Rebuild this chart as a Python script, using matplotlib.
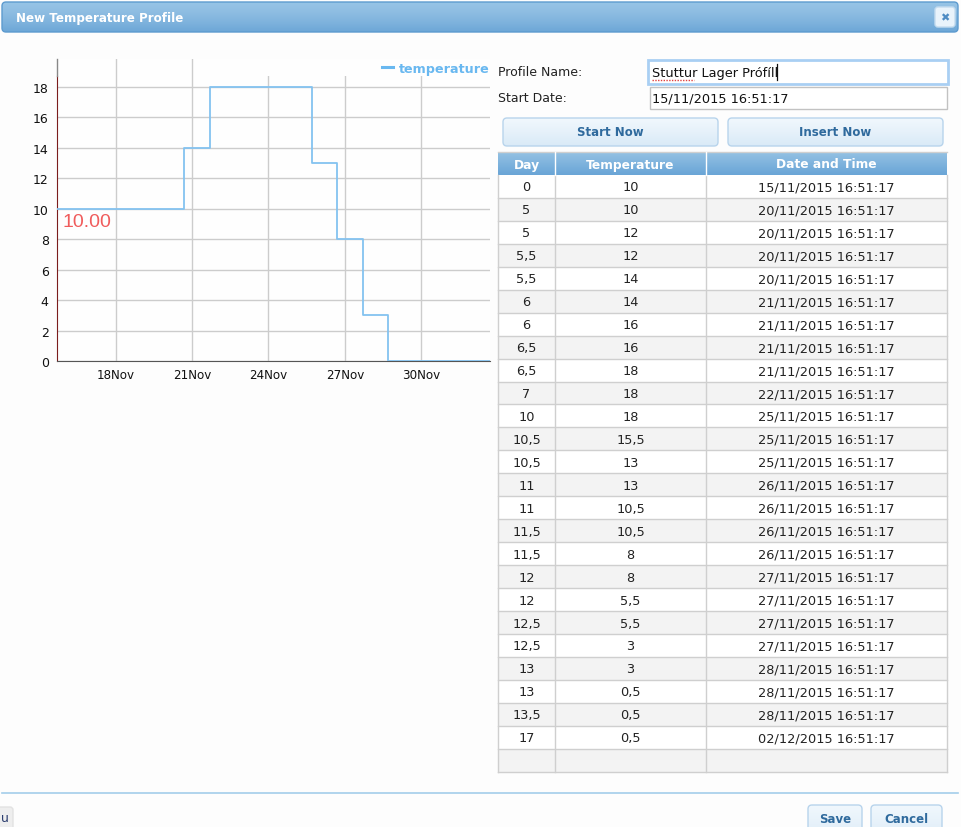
import numpy as np
import matplotlib
matplotlib.use("Agg")
import matplotlib.pyplot as plt
import matplotlib.dates as mdates
from matplotlib.patches import Rectangle, FancyBboxPatch
from matplotlib.colors import to_rgb
from datetime import datetime, timedelta

plt.rcParams['font.family'] = ['DejaVu Sans']

# chart series (step profile as drawn)
start = datetime(2015, 11, 15, 16, 51, 17)
chart_days = [0, 5, 6, 10, 11, 12, 13, 17]
chart_temps = [10, 14, 18, 13, 8, 3, 0, 0]
tick_dates = [datetime(2015, 11, d) for d in (18, 21, 24, 27, 30)]
y_ticks = list(range(0, 19, 2))

# table contents
table_cols = ["Day", "Temperature", "Date and Time"]
days = ["0", "5", "5", "5,5", "5,5", "6", "6", "6,5", "6,5", "7", "10", "10,5",
        "10,5", "11", "11", "11,5", "11,5", "12", "12", "12,5", "12,5", "13",
        "13", "13,5", "17"]
temps = ["10", "10", "12", "12", "14", "14", "16", "16", "18", "18", "18", "15,5",
         "13", "13", "10,5", "10,5", "8", "8", "5,5", "5,5", "3", "3", "0,5",
         "0,5", "0,5"]
stamps = ["15/11/2015 16:51:17", "20/11/2015 16:51:17", "20/11/2015 16:51:17",
          "20/11/2015 16:51:17", "20/11/2015 16:51:17", "21/11/2015 16:51:17",
          "21/11/2015 16:51:17", "21/11/2015 16:51:17", "21/11/2015 16:51:17",
          "22/11/2015 16:51:17", "25/11/2015 16:51:17", "25/11/2015 16:51:17",
          "25/11/2015 16:51:17", "26/11/2015 16:51:17", "26/11/2015 16:51:17",
          "26/11/2015 16:51:17", "26/11/2015 16:51:17", "27/11/2015 16:51:17",
          "27/11/2015 16:51:17", "27/11/2015 16:51:17", "27/11/2015 16:51:17",
          "28/11/2015 16:51:17", "28/11/2015 16:51:17", "28/11/2015 16:51:17",
          "02/12/2015 16:51:17"]
profile_name = "Stuttur Lager Prófíll"
start_text = "15/11/2015 16:51:17"

W, H = 961, 828
fig = plt.figure(figsize=(W / 100, H / 100), dpi=100, facecolor="#fdfdfd")

# ---- background "dialog" layer in pixel coords
bg = fig.add_axes([0, 0, 1, 1], zorder=0)
bg.set_axis_off()


def gradient(x0, y0, x1, y1, stops, clip=None):
    n = 60
    pos = np.linspace(0, 1, n)
    sp = np.linspace(0, 1, len(stops))
    cols = np.array([to_rgb(c) for c in stops])
    rgb = np.stack([np.interp(pos, sp, cols[:, k]) for k in range(3)], axis=1)
    im = bg.imshow(rgb.reshape(n, 1, 3), extent=(x0, x1, y1, y0), aspect="auto",
                   interpolation="bilinear", zorder=1)
    if clip is not None:
        im.set_clip_path(clip)
    return im


def rbox(x0, y0, x1, y1, r, fc, ec, lw=1, z=1):
    p = FancyBboxPatch((x0, y0), x1 - x0, y1 - y0,
                       boxstyle=f"round,pad=0,rounding_size={r}",
                       fc=fc, ec=ec, lw=lw, zorder=z)
    bg.add_patch(p)
    return p


# title bar
tb = rbox(2, 3, 958, 33, 4, "none", "#5d9bcf", 1, 2)
gradient(2, 3, 958, 33, ["#97c4e6", "#8ebde2", "#7fb3dd", "#6da7d7"], clip=tb)
bg.text(16, 18.5, "New Temperature Profile", color="white", fontsize=8.6,
        fontweight="bold", va="center", ha="left", zorder=3)
cb = rbox(935, 8, 955, 28, 3, "#e9f3fb", "#c4dcef", 1, 3)
bg.text(945, 18.5, "✖", color="#4f8cc4", fontsize=8, ha="center", va="center", zorder=4)

# form fields
bg.text(498, 72, "Profile Name:", fontsize=9, color="#222", va="center")
bg.text(498, 99, "Start Date:", fontsize=9, color="#222", va="center")
bg.add_patch(Rectangle((648, 61), 300, 24, fc="white", ec="#a9cff3", lw=2, zorder=2))
bg.add_patch(Rectangle((650, 88), 297, 22, fc="white", ec="#c2c2c2", lw=1, zorder=2))
bg.text(652, 73, profile_name, fontsize=9.3, color="#111", va="center", zorder=3)
bg.plot([652, 694], [80.5, 80.5], color="#e04040", lw=1, ls=(0, (1, 1)), zorder=4)
bg.plot([777, 777], [65, 81], color="#111", lw=0.9, zorder=4)
bg.text(652, 99.5, start_text, fontsize=9.3, color="#111", va="center", zorder=3)

# buttons
for x0, x1, label in [(503, 718, "Start Now"), (728, 943, "Insert Now"),
                      (808, 862, "Save"), (871, 942, "Cancel")]:
    y0, y1 = (119, 147) if x0 < 800 else (806, 845)
    b = rbox(x0, y0, x1, y1, 4, "none", "#b8d4ec", 1, 2)
    gradient(x0, y0, x1, y1, ["#f1f8fd", "#e6f1fa", "#d9eaf7"], clip=b)
    bg.text((x0 + x1) / 2, (y0 + 14) if x0 > 800 else (y0 + y1) / 2, label,
            fontsize=8.5, fontweight="bold", color="#2f6a9d", ha="center",
            va="center", zorder=3)

# table
col_x = [498, 555, 706, 947]
head_top, head_bot = 153, 176
row_h = 22.95
n_rows = len(days) + 1
hd = Rectangle((col_x[0], head_top), col_x[-1] - col_x[0], head_bot - head_top,
               fc="none", ec="none")
bg.add_patch(hd)
gradient(col_x[0], head_top, col_x[-1], head_bot,
         ["#93c1e3", "#86b8df", "#77aedb", "#6aa5d6"], clip=hd)
for i, name in enumerate(table_cols):
    bg.text((col_x[i] + col_x[i + 1]) / 2, (head_top + head_bot) / 2 + 0.5, name,
            color="white", fontsize=8.8, fontweight="bold", ha="center",
            va="center", zorder=3)
for xc in col_x[1:-1]:
    bg.plot([xc, xc], [head_top, head_bot], color="white", lw=1, zorder=3)

cells = list(zip(days, temps, stamps)) + [("", "", "")]
for r, row in enumerate(cells):
    top = head_bot + r * row_h
    fc = "#f3f3f3" if r % 2 else "#ffffff"
    bg.add_patch(Rectangle((col_x[0], top), col_x[-1] - col_x[0], row_h,
                           fc=fc, ec="none", zorder=1))
    bg.plot([col_x[0], col_x[-1]], [top + row_h, top + row_h], color="#cfcfcf",
            lw=1, zorder=2)
    for i, val in enumerate(row):
        bg.text((col_x[i] + col_x[i + 1]) / 2, top + row_h / 2 + 0.5, val,
                fontsize=9.3, color="#222", ha="center", va="center", zorder=3)
tab_bot = head_bot + n_rows * row_h
for xc in col_x:
    bg.plot([xc, xc], [head_bot, tab_bot], color="#cfcfcf", lw=1, zorder=2)
bg.plot([col_x[0], col_x[-1]], [head_top, head_top], color="#cfcfcf", lw=1, zorder=2)

# footer
bg.plot([2, 958], [794.5, 794.5], color="#a3cdea", lw=1.2, zorder=2)
rbox(-6, 808, 13, 840, 3, "#eeeeee", "#e2e2e2", 1, 2)
bg.text(1, 819, "u", fontsize=9, color="#2c3e70", va="center", zorder=3)

bg.set_xlim(0, W)
bg.set_ylim(H, 0)

# ---- chart
L, R, T, B = 57, 490, 60, 362
ax = fig.add_axes([L / W, 1 - B / H, (R - L) / W, (B - T) / H], zorder=2)
ax.set_facecolor("#fefefe")
x = [start + timedelta(days=d) for d in chart_days]
ax.step(x, chart_temps, where="post", color="#84c3f0", lw=1.3, zorder=3,
        label="temperature")
ax.set_xlim(x[0], x[-1])
ax.set_ylim(0, 19.84)
ax.set_yticks(y_ticks)
ax.set_xticks(tick_dates)
ax.xaxis.set_major_formatter(mdates.DateFormatter("%d%b"))
ax.tick_params(length=0, labelsize=8.6, labelcolor="#111", pad=5)
ax.tick_params(axis="y", pad=6, labelsize=9)
ax.grid(True, color="#cccccc", lw=1, zorder=0)
ax.set_axisbelow(True)
for s in ("top", "right"):
    ax.spines[s].set_visible(False)
ax.spines["bottom"].set_color("#555555")
ax.spines["left"].set_color("#7b1d1d")
ax.spines["left"].set_bounds(0, 18.75)
ax.plot([x[0], x[0]], [18.75, 19.84], color="#888888", lw=1, clip_on=False, zorder=4)
# white band behind legend hides grid lines
ax.add_patch(Rectangle((0.418, 0.944), 0.59, 0.06, transform=ax.transAxes,
                       fc="#fefefe", ec="none", zorder=2))
leg = ax.legend(loc="center right", bbox_to_anchor=(0.999, 0.970), frameon=False,
                handlelength=0.9, handletextpad=0.45, borderaxespad=0,
                borderpad=0, prop={"weight": "bold", "size": 9.2},
                labelcolor="#69b8f0")
leg.get_lines()[0].set_linewidth(2.2)
leg.get_lines()[0].set_color("#69b8f0")
ax.annotate(f"{chart_temps[0]:.2f}", xy=(x[0], chart_temps[0]), xytext=(5, -4),
            textcoords="offset pixels", fontsize=14, color="#f05c5c",
            family="Liberation Sans", ha="left", va="top", zorder=5)

fig.savefig("out.png", dpi=100, facecolor=fig.get_facecolor())
